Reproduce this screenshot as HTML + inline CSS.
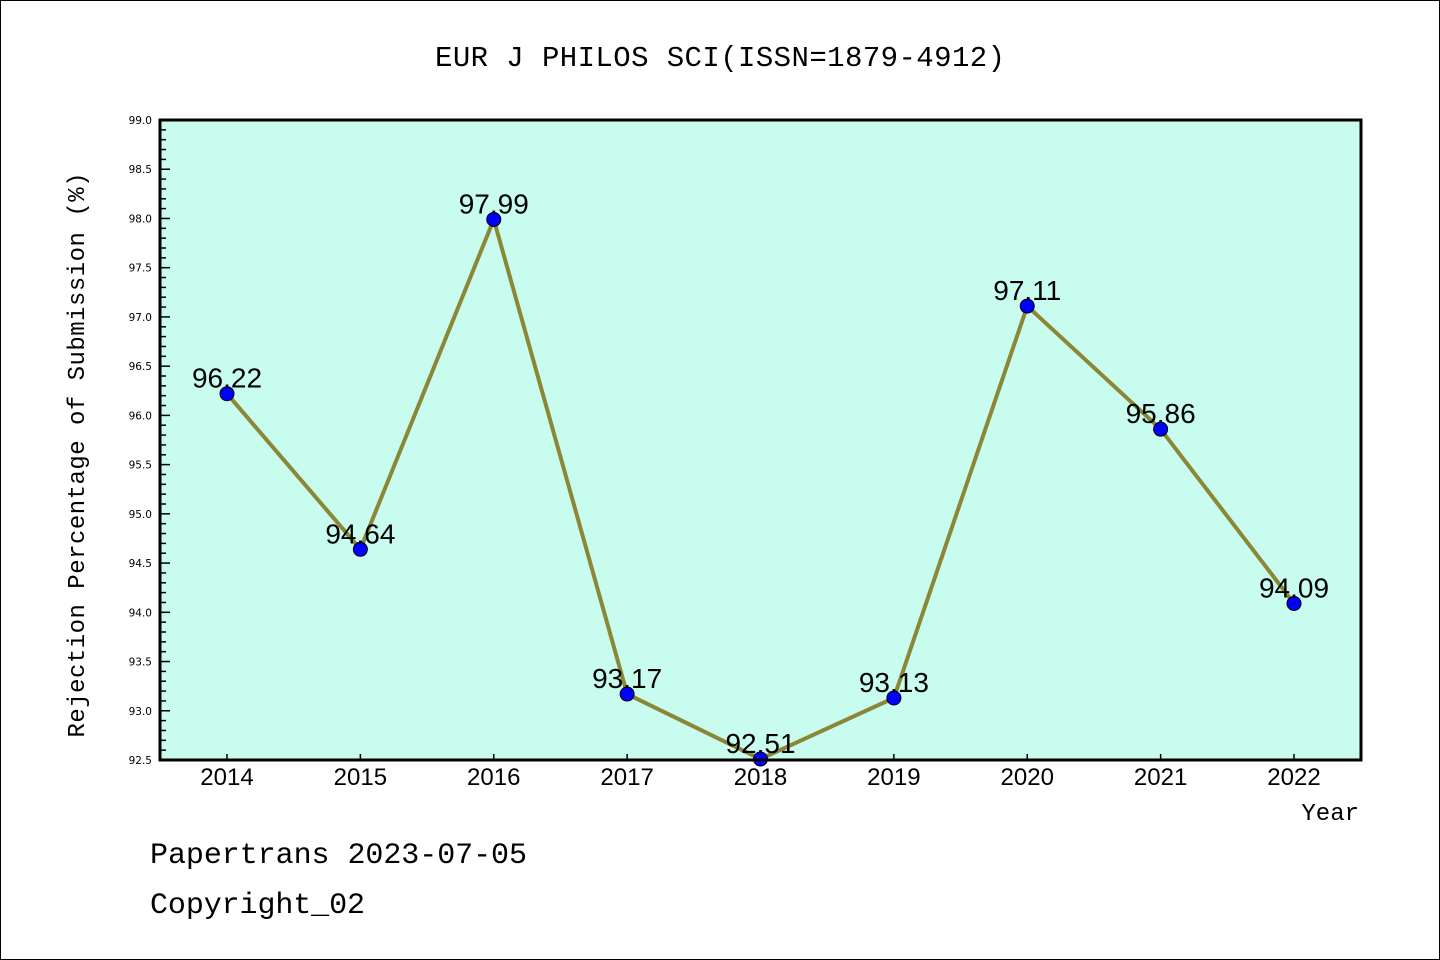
<!DOCTYPE html>
<html><head><meta charset="utf-8"><style>
html,body{margin:0;padding:0;background:#fff;}
svg{display:block;}
</style></head><body>
<svg id="chart" width="1440" height="960" xmlns="http://www.w3.org/2000/svg">
<rect x="0.5" y="0.5" width="1439" height="959" fill="#fff" stroke="#000"/>
<text x="720" y="66" text-anchor="middle" font-family="Liberation Mono, WenQuanYi Zen Hei, monospace" font-size="29" textLength="570">EUR J PHILOS SCI(ISSN=1879-4912)</text>
<rect x="160" y="120" width="1201" height="640" fill="#c8fcee"/>
<g id="axes"></g>
<g id="series"></g>
<rect x="160" y="120" width="1201" height="640" fill="none" stroke="#000" stroke-width="3"/>
<text transform="translate(84,455) rotate(-90)" text-anchor="middle" font-family="Liberation Mono, monospace" font-size="24" textLength="565">Rejection Percentage of Submission (%)</text>
<text x="1359" y="820" text-anchor="end" font-family="Liberation Mono, monospace" font-size="24">Year</text>
<text x="150" y="863" font-family="Liberation Mono, monospace" font-size="30" textLength="377">Papertrans 2023-07-05</text>
<text x="150" y="913" font-family="Liberation Mono, monospace" font-size="30" textLength="215">Copyright_02</text>
</svg>
<script>
const years = ['2014','2015','2016','2017','2018','2019','2020','2021','2022'];
const values = [96.22,94.64,97.99,93.17,92.51,93.13,97.11,95.86,94.09];
const yTickLabels = ['92.5','93.0','93.5','94.0','94.5','95.0','95.5','96.0','96.5','97.0','97.5','98.0','98.5','99.0'];
const yMin = 92.5, yMax = 99.0;
const NS='http://www.w3.org/2000/svg';
function y(v){return 760-(v-yMin)/(yMax-yMin)*640;}
function x(i){return 227+i*(1294-227)/(years.length-1);}
function mk(tag,attrs,parent){const e=document.createElementNS(NS,tag);for(const k in attrs)e.setAttribute(k,attrs[k]);parent.appendChild(e);return e;}
const axes=document.getElementById('axes'), series=document.getElementById('series');
for(let k=0;k<=65;k++){
  const v=yMin+k*0.1; const major=k%5===0;
  const t=mk('line',{x1:160,x2:160+(major?10:6),y1:y(v),y2:y(v),stroke:'#000','stroke-width':1.5},axes);
  
  
}
yTickLabels.forEach(s=>{
  const t=mk('text',{x:152,y:y(parseFloat(s))+4,'text-anchor':'end','font-family':'DejaVu Sans, sans-serif','font-size':10.5},axes);
  t.textContent=s;
  
  
});
years.forEach((yr,i)=>{
  const t=mk('line',{x1:x(i),x2:x(i),y1:760,y2:754,stroke:'#000','stroke-width':1.5},axes);
  
  
  const l=mk('text',{x:x(i),y:785,'text-anchor':'middle','font-family':'Liberation Sans, sans-serif','font-size':24},axes);
  l.textContent=yr;
  
  
});
const pts=values.map((v,i)=>x(i)+','+y(v)).join(' ');
const line=mk('polyline',{points:pts,fill:'none',stroke:'#8b8736','stroke-width':4,'stroke-linejoin':'round'},series);


values.forEach((v,i)=>{
  const c=mk('circle',{cx:x(i),cy:y(v),r:7,fill:'#0000ff',stroke:'#000','stroke-width':1},series);
  
  
  const l=mk('text',{x:x(i),y:y(v)-6,'text-anchor':'middle','font-family':'Liberation Sans, sans-serif','font-size':28},series);
  l.textContent=v.toFixed(2);
  
  
});
</script>
</body></html>
